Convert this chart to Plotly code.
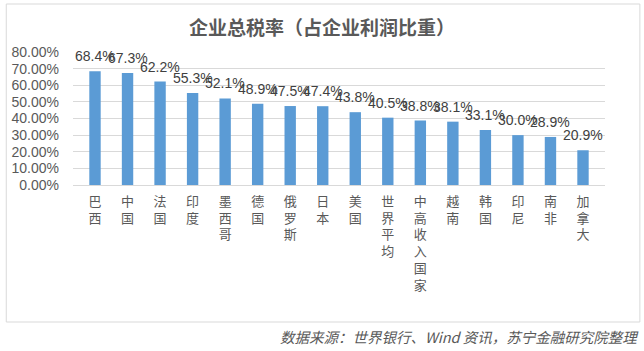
import plotly.graph_objects as go

categories = ["巴西", "中国", "法国", "印度", "墨西哥", "德国", "俄罗斯", "日本", "美国",
              "世界平均", "中高收入国家", "越南", "韩国", "印尼", "南非", "加拿大"]
values = [68.4, 67.3, 62.2, 55.3, 52.1, 48.9, 47.5, 47.4, 43.8,
          40.5, 38.8, 38.1, 33.1, 30.0, 28.9, 20.9]
y_ticks = [0, 10, 20, 30, 40, 50, 60, 70, 80]
y_tick_labels = [f"{v:.2f}%" for v in y_ticks]
title_text = "企业总税率（占企业利润比重）"
source_text = "数据来源：世界银行、Wind 资讯，苏宁金融研究院整理"

vert_labels = ["<br>".join(list(c)) for c in categories]
font_cn = "Noto Sans CJK SC, Liberation Sans, sans-serif"

fig = go.Figure()
fig.add_trace(go.Bar(
    x=categories, y=values, width=0.35,
    marker=dict(color="#5b9bd5", line=dict(width=0)),
    hoverinfo="skip",
))

for c, v in zip(categories, values):
    fig.add_annotation(x=c, y=v, text=f"{v:.1f}%", showarrow=False,
                       xanchor="center", yanchor="bottom", yshift=5,
                       font=dict(size=14, color="#404040", family="Liberation Sans, Arial"))

fig.update_layout(
    width=644, height=351,
    margin=dict(l=71, r=39, t=52, b=166),
    paper_bgcolor="white", plot_bgcolor="white",
    showlegend=False,
    font=dict(family=font_cn, color="#595959"),
    xaxis=dict(
        tickmode="array", tickvals=categories, ticktext=vert_labels,
        tickfont=dict(size=13, color="#595959", family=font_cn),
        showgrid=False, showline=True, linecolor="#d9d9d9", linewidth=1,
        ticks="", tickangle=0, fixedrange=True, ticklabelstandoff=4,
    ),
    yaxis=dict(
        range=[0, 80], tickmode="array", tickvals=y_ticks, ticktext=y_tick_labels,
        tickfont=dict(size=14, color="#595959", family="Liberation Sans, Arial"),
        showgrid=True, gridcolor="#d9d9d9", gridwidth=1,
        zeroline=False, showline=False, ticks="", ticklen=0,
        fixedrange=True, ticklabelstandoff=13,
    ),
    shapes=[dict(type="rect", xref="paper", yref="paper",
                 x0=(4 - 71) / 534, x1=(640 - 71) / 534,
                 y0=(185 - 322) / 133, y1=(185 - 4) / 133,
                 line=dict(color="#d9d9d9", width=1), fillcolor="rgba(0,0,0,0)",
                 layer="below")],
)

fig.add_annotation(xref="paper", yref="paper", x=(321 - 71) / 534, y=(185 - 27) / 133,
                   text=f"<b>{title_text}</b>", showarrow=False, xanchor="center", yanchor="middle",
                   font=dict(size=19, color="#595959", family=font_cn))
fig.add_annotation(xref="paper", yref="paper", x=(641 - 71) / 534, y=(185 - 336) / 133,
                   text=f"<i>{source_text}</i>", showarrow=False, xanchor="right", yanchor="middle",
                   font=dict(size=14.5, color="#595959", family=font_cn))

fig.write_html("out.html")
